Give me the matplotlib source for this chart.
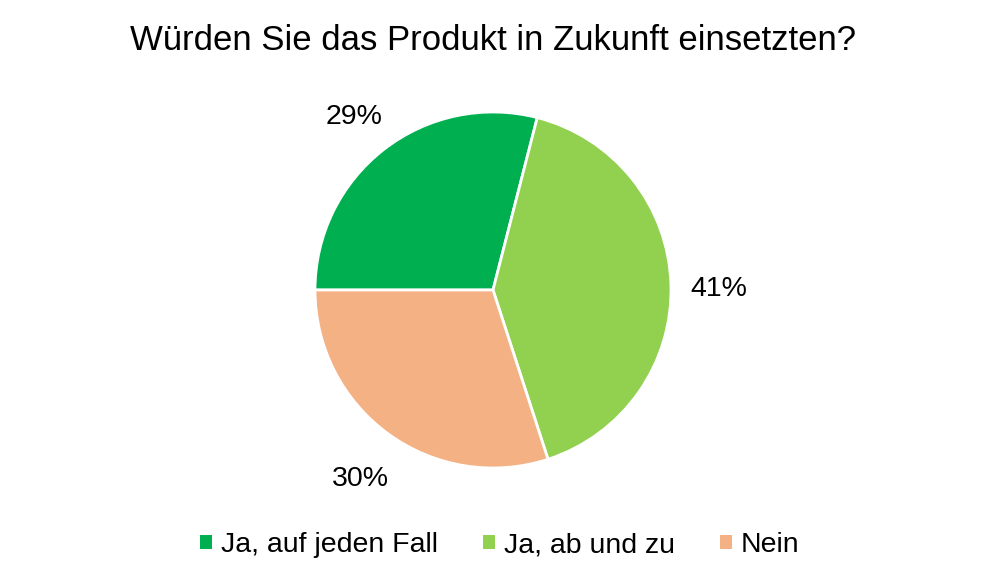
import matplotlib.pyplot as plt
import matplotlib.transforms as mtransforms
from matplotlib.patches import Patch

plt.rcParams['font.family'] = ['Liberation Sans', 'DejaVu Sans']

# Daten
labels = ['Ja, auf jeden Fall', 'Ja, ab und zu', 'Nein']
values = [29, 41, 30]
colors = ['#00B050', '#92D050', '#F4B183']

fig = plt.figure(figsize=(9.86, 5.79), dpi=100)

# Kreis: Mitte bei (493, 290) px, Radius ~178 px
r_px = 178
half = 260
cx, cy = 493 / 986, 1 - 290 / 579
w, h = 2 * half / 986, 2 * half / 579
ax = fig.add_axes([cx - w / 2, cy - h / 2, w, h])
lim = half / r_px

wedges, texts, autotexts = ax.pie(
    values, colors=colors, startangle=180, counterclock=False,
    autopct='%1.0f%%', pctdistance=1.27,
    wedgeprops=dict(edgecolor='white', linewidth=2),
    textprops=dict(fontsize=20.5, color='black'))
# Beschriftungen etwas nach unten schieben (Textbox-Mitte vs. sichtbare Mitte)
for t in autotexts:
    t.set_transform(mtransforms.offset_copy(ax.transData, fig=fig, x=0, y=-6, units='dots'))

ax.set_xlim(-lim, lim)
ax.set_ylim(-lim, lim)
ax.set_aspect('equal')
ax.axis('off')

fig.text(0.5, 1 - 40 / 579, 'Würden Sie das Produkt in Zukunft einsetzten?',
         ha='center', va='center', fontsize=25)

handles = [Patch(facecolor=c, edgecolor='none') for c in colors]
fig.legend(handles, labels, loc='center', bbox_to_anchor=(0.507, 1 - 545 / 579),
           ncol=3, frameon=False, fontsize=20.5, handlelength=0.4, handleheight=0.4,
           handletextpad=0.32, columnspacing=1.6)

fig.savefig('out.png', dpi=100)
